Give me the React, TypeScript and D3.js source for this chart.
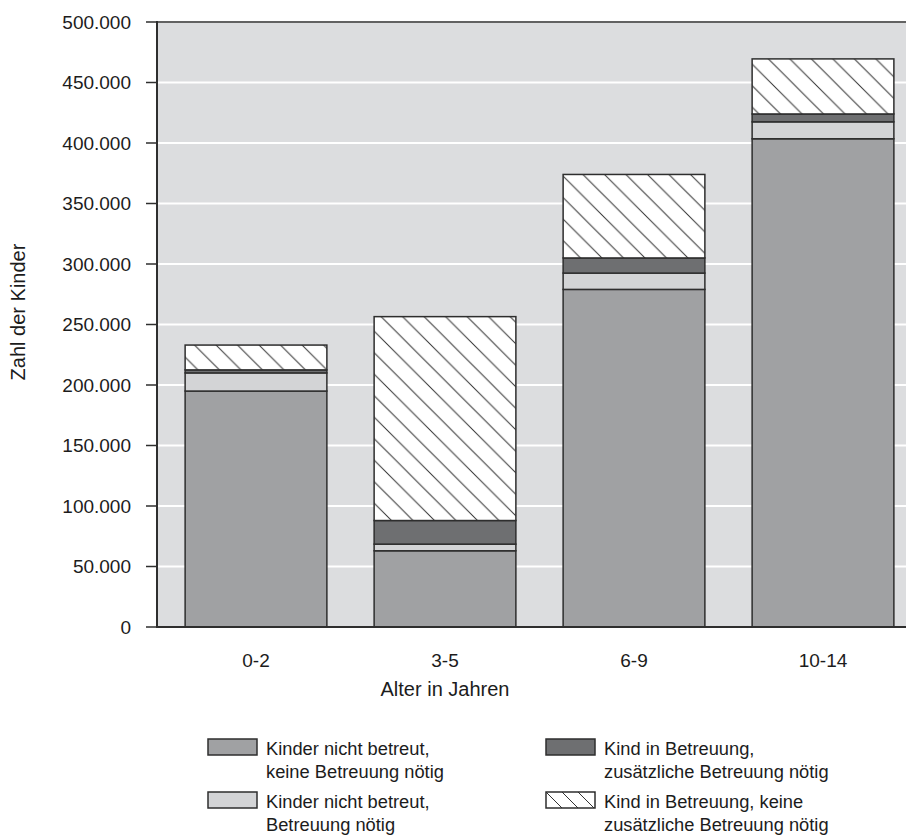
import React from "react";
import * as d3 from "d3";

const categories = ["0-2", "3-5", "6-9", "10-14"];
const seriesNames = [
  ["Kinder nicht betreut,", "keine Betreuung nötig"],
  ["Kinder nicht betreut,", "Betreuung nötig"],
  ["Kind in Betreuung,", "zusätzliche Betreuung nötig"],
  ["Kind in Betreuung, keine", "zusätzliche Betreuung nötig"],
];
const nichtBetreutKeine = [195000, 63000, 279000, 403500];
const nichtBetreutNoetig = [15000, 5500, 13500, 14000];
const betreutZusaetzlich = [2500, 19500, 12500, 6500];
const betreutKeine = [20500, 168500, 69000, 45500];
const yTicks = [0, 50000, 100000, 150000, 200000, 250000, 300000, 350000, 400000, 450000, 500000];

const fills = ["#a0a1a3", "#d3d4d6", "#6e6f71", "url(#hatch)"];

export default function App() {
  const W = 906, H = 837;
  const left = 157, top = 22, bottom = 627, right = 906;
  const x = d3.scaleBand<string>().domain(categories).range([161.5, 917.5]).paddingInner(0.25).paddingOuter(0.125);
  const y = d3.scaleLinear().domain([0, 500000]).range([bottom, top]);
  const fmt = (v: number) => (v === 0 ? "0" : d3.format(",")(v).replace(/,/g, "."));

  const rows = categories.map((c, i) => ({
    c,
    a: nichtBetreutKeine[i],
    b: nichtBetreutNoetig[i],
    cc: betreutZusaetzlich[i],
    d: betreutKeine[i],
  }));
  const stack = d3.stack<any>().keys(["a", "b", "cc", "d"])(rows);
  const font = "'Liberation Sans', Arial, sans-serif";
  const stroke = "#2e2e2e";
  const textColor = "#1c1c1c";

  const legendPos = [
    { x: 208, y: 739 },
    { x: 208, y: 792 },
    { x: 546, y: 739 },
    { x: 546, y: 792 },
  ];

  return (
    <svg width={W} height={H} style={{ position: "absolute", left: 0, top: 0 }} fontFamily={font}>
      <defs>
        <pattern id="hatch" patternUnits="userSpaceOnUse" width={21.5} height={21.5}>
          <rect width={21.5} height={21.5} fill="#ffffff" />
          <path d="M0,0 L21.5,21.5 M-2,19.5 L2,23.5 M19.5,-2 L23.5,2" stroke="#333" strokeWidth={1} />
        </pattern>
        <pattern id="hatchL" patternUnits="userSpaceOnUse" width={16} height={16} x={546} y={792}>
          <rect width={16} height={16} fill="#ffffff" />
          <path d="M0,0 L16,16 M-2,14 L2,18 M14,-2 L18,2" stroke="#333" strokeWidth={1} />
        </pattern>
        <clipPath id="plotClip">
          <rect x={left} y={top} width={right - left} height={bottom - top} />
        </clipPath>
      </defs>
      <rect x={left} y={top} width={right - left} height={bottom - top} fill="#dcdddf" />
      {yTicks.map((t) => (
        <line key={t} x1={left} x2={right} y1={y(t)} y2={y(t)} stroke="#ffffff" strokeWidth={2} />
      ))}
      <g clipPath="url(#plotClip)">
        {stack.map((s, si) =>
          s.map((d, i) => (
            <rect
              key={si + "-" + i}
              x={x(categories[i])}
              y={y(d[1])}
              width={x.bandwidth()}
              height={y(d[0]) - y(d[1])}
              fill={fills[si]}
              stroke={stroke}
              strokeWidth={1.5}
            />
          ))
        )}
      </g>
      <line x1={left} x2={right} y1={top} y2={top} stroke={stroke} strokeWidth={1.5} />
      <line x1={left} x2={left} y1={top - 1} y2={bottom + 1} stroke={stroke} strokeWidth={2} />
      <line x1={left} x2={right} y1={bottom} y2={bottom} stroke={stroke} strokeWidth={2} />
      {yTicks.map((t) => (
        <g key={"t" + t}>
          <line x1={146} x2={left} y1={y(t)} y2={y(t)} stroke={stroke} strokeWidth={1.5} />
          <text x={131} y={y(t)} dy="0.36em" textAnchor="end" fontSize={19} fill={textColor}>
            {fmt(t)}
          </text>
        </g>
      ))}
      {categories.map((c) => (
        <text key={c} x={(x(c) as number) + x.bandwidth() / 2} y={667} textAnchor="middle" fontSize={19} fill={textColor}>
          {c}
        </text>
      ))}
      <text x={445} y={696} textAnchor="middle" fontSize={20} fill={textColor}>
        Alter in Jahren
      </text>
      <text transform="translate(25,312) rotate(-90)" textAnchor="middle" fontSize={20} fill={textColor}>
        Zahl der Kinder
      </text>
      {seriesNames.map((lines, i) => {
        const p = legendPos[i];
        return (
          <g key={"l" + i}>
            <rect x={p.x} y={p.y} width={49} height={16} fill={i === 3 ? "url(#hatchL)" : fills[i]} stroke={stroke} strokeWidth={1.5} />
            <text x={p.x + 58} y={p.y + 16} fontSize={18.3} fill={textColor}>
              {lines[0]}
            </text>
            <text x={p.x + 58} y={p.y + 39} fontSize={18.3} fill={textColor}>
              {lines[1]}
            </text>
          </g>
        );
      })}
    </svg>
  );
}
